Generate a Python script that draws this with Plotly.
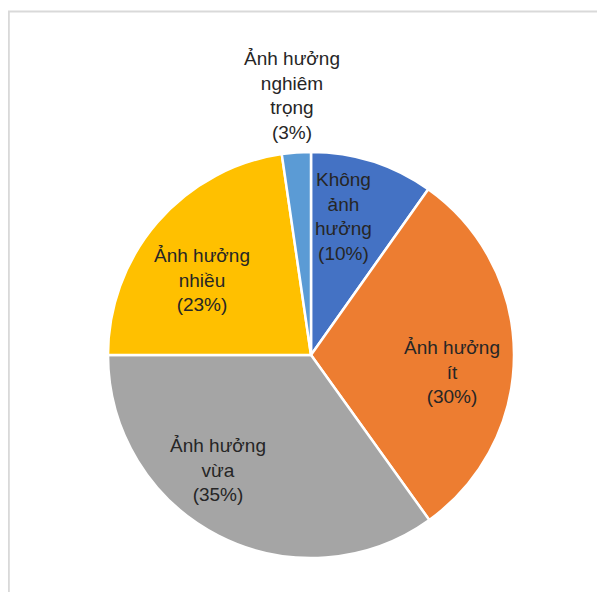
import math
import plotly.graph_objects as go

# ---- data ----
categories = ["Không ảnh hưởng", "Ảnh hưởng ít", "Ảnh hưởng vừa", "Ảnh hưởng nhiều", "Ảnh hưởng nghiêm trọng"]
values = [9.8, 30.3, 34.9, 22.7, 2.3]
label_texts = [
    "Không<br>ảnh<br>hưởng<br>(10%)",
    "Ảnh hưởng<br>ít<br>(30%)",
    "Ảnh hưởng<br>vừa<br>(35%)",
    "Ảnh hưởng<br>nhiều<br>(23%)",
    "Ảnh hưởng<br>nghiêm<br>trọng<br>(3%)",
]
colors = ["#4472C4", "#ED7D31", "#A5A5A5", "#FFC000", "#5B9BD5"]

# ---- layout / style ----
OFF = 8  # page body margin
W, H = 605 - OFF, 592 - OFF
CX, CY, R = 311 - OFF, 355 - OFF, 203  # pie centre & radius in figure px
label_offset_deg = [-4.6, 7.2, 11.8, -6.4, 0.0]
label_radius = [0.70, 0.70, 0.73, 0.65, 1.28]

fig = go.Figure(go.Pie(
    labels=categories,
    values=values,
    sort=False,
    direction="clockwise",
    rotation=0,
    marker=dict(colors=colors, line=dict(color="white", width=2.5)),
    textinfo="none",
    hoverinfo="label+percent",
    showlegend=False,
    domain=dict(x=[(CX - R) / W, (CX + R) / W], y=[1 - (CY + R) / H, 1 - (CY - R) / H]),
))

total = sum(values)
cum = 0.0
annotations = []
for i, v in enumerate(values):
    mid = (cum + v / 2) / total * 360.0
    cum += v
    ang = math.radians(mid + label_offset_deg[i])
    px = CX + label_radius[i] * R * math.sin(ang)
    py = CY - label_radius[i] * R * math.cos(ang)
    annotations.append(dict(
        x=px / W, y=1 - py / H, xref="paper", yref="paper",
        text=label_texts[i], showarrow=False, align="center",
        xanchor="center", yanchor="middle",
        font=dict(family="Liberation Sans, Arial, sans-serif", size=19, color="#262626"),
    ))

fig.update_layout(
    width=W, height=H, autosize=False,
    margin=dict(l=0, r=0, t=0, b=0),
    paper_bgcolor="white", plot_bgcolor="white",
    annotations=annotations,
    shapes=[dict(type="rect", xref="paper", yref="paper",
                 x0=0.8 / W, x1=1.05, y0=-0.05, y1=1 - 3.5 / H,
                 line=dict(color="#D9D9D9", width=2), fillcolor="rgba(0,0,0,0)", layer="below")],
)

fig.write_html("out.html")
